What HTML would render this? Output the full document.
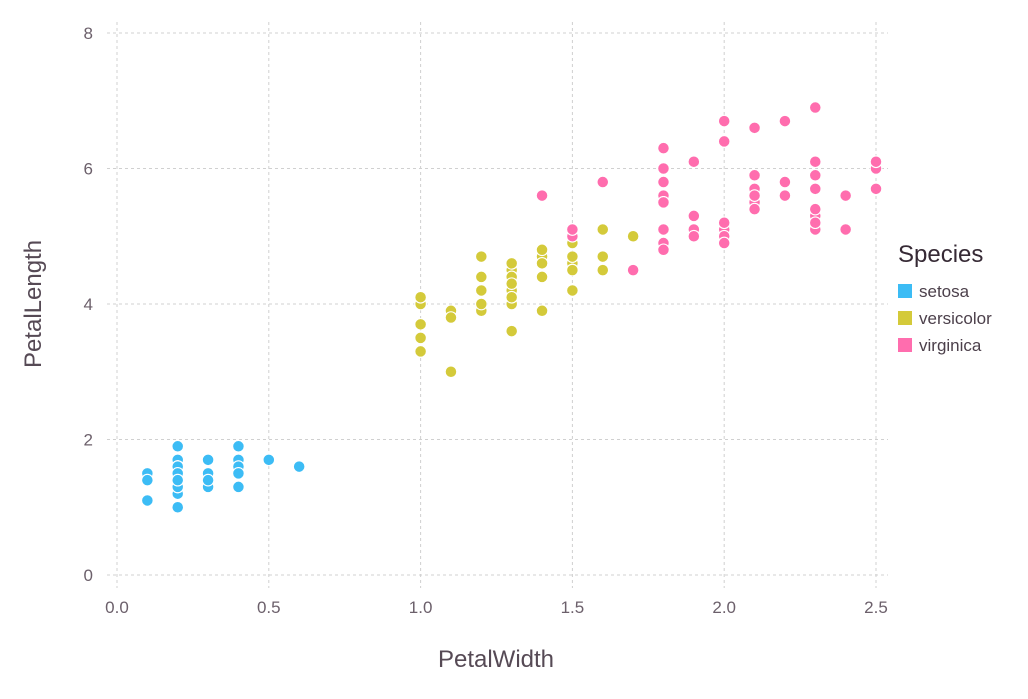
<!DOCTYPE html>
<html><head><meta charset="utf-8"><style>
body{margin:0;background:#fff;}
svg text{font-family:"Liberation Sans",sans-serif;}
</style></head><body>
<svg id="chart" width="1028" height="694" xmlns="http://www.w3.org/2000/svg">
<g id="grid"></g>
<g id="ticks"></g>
<g id="points"></g>
<text x="496" y="667" text-anchor="middle" font-size="24" fill="#564a55">PetalWidth</text>
<text transform="translate(41,304) rotate(-90)" text-anchor="middle" font-size="24" fill="#564a55">PetalLength</text>
<g>
<text x="898" y="262" font-size="24" fill="#362a35">Species</text>
<rect x="898" y="284" width="14" height="14" fill="#3CBCF5"/>
<text x="919" y="297" font-size="17" fill="#4c404b">setosa</text>
<rect x="898" y="311" width="14" height="14" fill="#D4CA3A"/>
<text x="919" y="324" font-size="17" fill="#4c404b">versicolor</text>
<rect x="898" y="338" width="14" height="14" fill="#FF6DAE"/>
<text x="919" y="351" font-size="17" fill="#4c404b">virginica</text>
</g>
</svg>
<script>
const xTicks=[0,0.5,1,1.5,2,2.5];
const xTickLabels=["0.0","0.5","1.0","1.5","2.0","2.5"];
const yTicks=[0,2,4,6,8];
const yTickLabels=["0","2","4","6","8"];
const speciesNames=["setosa","versicolor","virginica"];
const speciesColors=["#3CBCF5","#D4CA3A","#FF6DAE"];
const setosaWidth=[.2,.2,.2,.2,.2,.4,.3,.2,.2,.1,.2,.2,.1,.1,.2,.4,.4,.3,.3,.3,.2,.4,.2,.5,.2,.2,.4,.2,.2,.2,.2,.4,.1,.2,.2,.2,.2,.1,.2,.2,.3,.3,.2,.6,.4,.3,.2,.2,.2,.2];
const setosaLength=[1.4,1.4,1.3,1.5,1.4,1.7,1.4,1.5,1.4,1.5,1.5,1.6,1.4,1.1,1.2,1.5,1.3,1.4,1.7,1.5,1.7,1.5,1.0,1.7,1.9,1.6,1.6,1.5,1.4,1.6,1.6,1.5,1.5,1.4,1.5,1.2,1.3,1.4,1.3,1.5,1.3,1.3,1.3,1.6,1.9,1.4,1.6,1.4,1.5,1.4];
const versicolorWidth=[1.4,1.5,1.5,1.3,1.5,1.3,1.6,1.0,1.3,1.4,1.0,1.5,1.0,1.4,1.3,1.4,1.5,1.0,1.5,1.1,1.8,1.3,1.5,1.2,1.3,1.4,1.4,1.7,1.5,1.0,1.1,1.0,1.2,1.6,1.5,1.6,1.5,1.3,1.3,1.3,1.2,1.4,1.2,1.0,1.3,1.2,1.3,1.3,1.1,1.3];
const versicolorLength=[4.7,4.5,4.9,4.0,4.6,4.5,4.7,3.3,4.6,3.9,3.5,4.2,4.0,4.7,3.6,4.4,4.5,4.1,4.5,3.9,4.8,4.0,4.9,4.7,4.3,4.4,4.8,5.0,4.5,3.5,3.8,3.7,3.9,5.1,4.5,4.5,4.7,4.4,4.1,4.0,4.4,4.6,4.0,3.3,4.2,4.2,4.2,4.3,3.0,4.1];
const virginicaWidth=[2.5,1.9,2.1,1.8,2.2,2.1,1.7,1.8,1.8,2.5,2.0,1.9,2.1,2.0,2.4,2.3,1.8,2.2,2.3,1.5,2.3,2.0,2.0,1.8,2.1,1.8,1.8,1.8,2.1,1.6,1.9,2.0,2.2,1.5,1.4,2.3,2.4,1.8,1.8,2.1,2.4,2.3,1.9,2.3,2.5,2.3,1.9,2.0,2.3,1.8];
const virginicaLength=[6.0,5.1,5.9,5.6,5.8,6.6,4.5,6.3,5.8,6.1,5.1,5.3,5.5,5.0,5.1,5.3,5.5,6.7,6.9,5.0,5.7,4.9,6.7,4.9,5.7,6.0,4.8,4.9,5.6,5.8,6.1,6.4,5.6,5.1,5.6,6.1,5.6,5.5,4.8,5.4,5.6,5.1,5.1,5.9,5.7,5.2,5.0,5.2,5.4,5.1];

const NS="http://www.w3.org/2000/svg";
const xS=v=>117+v*(876-117)/2.5;
const yS=v=>575-v*(575-33)/8;
function mk(tag,attrs,parent){const e=document.createElementNS(NS,tag);for(const k in attrs)e.setAttribute(k,attrs[k]);parent.appendChild(e);return e;}
const grid=document.getElementById('grid'),ticks=document.getElementById('ticks'),pts=document.getElementById('points');
xTicks.forEach((t,i)=>{
 const l=mk('line',{x1:xS(t),x2:xS(t),y1:22,y2:588,stroke:'#d0d0d0','stroke-dasharray':'3,3','stroke-width':1},grid);
 
 
 const tx=mk('text',{x:xS(t),y:613,'text-anchor':'middle','font-size':17,fill:'#6c606b'},ticks);
 tx.textContent=xTickLabels[i];
 
 
});
yTicks.forEach((t,i)=>{
 const l=mk('line',{x1:107,x2:888,y1:yS(t),y2:yS(t),stroke:'#d0d0d0','stroke-dasharray':'3,3','stroke-width':1},grid);
 
 
 const tx=mk('text',{x:93,y:yS(t)+6,'text-anchor':'end','font-size':17,fill:'#6c606b'},ticks);
 tx.textContent=yTickLabels[i];
 
 
});
const series=[[setosaWidth,setosaLength],[versicolorWidth,versicolorLength],[virginicaWidth,virginicaLength]];
series.forEach((s,si)=>{
 s[0].forEach((w,i)=>{
  const c=mk('circle',{cx:xS(w),cy:yS(s[1][i]),r:5.8,fill:speciesColors[si],stroke:'#fff','stroke-width':1.1},pts);
  
  
 });
});
</script>
</body></html>
